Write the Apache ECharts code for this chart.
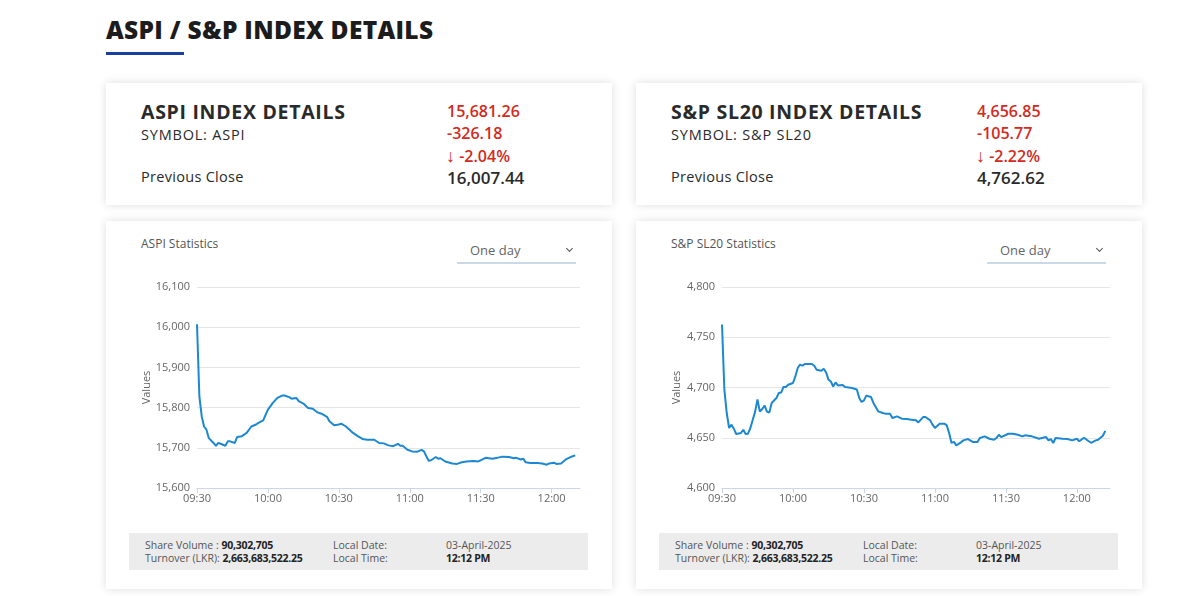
<!DOCTYPE html>
<html><head><meta charset="utf-8">
<script src="https://cdn.jsdelivr.net/npm/echarts@6/dist/echarts.min.js"></script>
<style>
html,body{margin:0;padding:0;background:#fff;width:1200px;height:596px;overflow:hidden;font-family:"Open Sans",sans-serif;}
.abs{position:absolute;white-space:nowrap;}
.card{position:absolute;background:#fff;box-shadow:0 0 9px rgba(0,0,0,0.13);}
.t{position:absolute;white-space:nowrap;height:20px;line-height:20px;}
b{letter-spacing:-0.25px;}
</style></head>
<body>
<script>
// ---------- data ----------
const tickLabels = ['09:30','10:00','10:30','11:00','11:30','12:00'];
const aspiTimes = ['09:30','09:31','09:32','09:33','09:34','09:35','09:37','09:38','09:39','09:40','09:42','09:43','09:44','09:46','09:47','09:49','09:51','09:53','09:55','09:56','09:58','09:59','10:00','10:02','10:04','10:06','10:07','10:09','10:10','10:12','10:13','10:15','10:17','10:19','10:21','10:23','10:25','10:26','10:28','10:30','10:31','10:33','10:36','10:38','10:40','10:42','10:45','10:47','10:49','10:51','10:53','10:55','10:56','10:57','10:59','11:01','11:03','11:05','11:06','11:07','11:08','11:09','11:11','11:12','11:13','11:15','11:18','11:20','11:22','11:24','11:27','11:29','11:31','11:32','11:35','11:37','11:39','11:42','11:44','11:45','11:47','11:48','11:49','11:51','11:54','11:56','11:58','11:59','12:01','12:02','12:04','12:06','12:08','12:10'];
const aspiValues = [16007.44,15828,15778,15753,15745,15724,15712,15705,15712,15710,15705,15716,15716,15712,15727,15729,15737,15753,15758,15762,15768,15782,15795,15811,15824,15830,15830,15826,15822,15824,15816,15810,15799,15797,15788,15784,15777,15766,15756,15758,15760,15753,15737,15729,15722,15720,15720,15712,15711,15706,15704,15710,15705,15705,15695,15691,15690,15695,15691,15679,15668,15669,15677,15673,15674,15666,15661,15660,15664,15666,15667,15666,15672,15675,15673,15675,15678,15677,15674,15675,15671,15673,15664,15662,15662,15661,15658,15661,15663,15660,15661,15671,15677,15681.26];
const slTimes = ['09:30','09:31','09:32','09:33','09:34','09:35','09:36','09:38','09:39','09:40','09:41','09:42','09:44','09:45','09:46','09:47','09:48','09:49','09:50','09:51','09:53','09:54','09:55','09:56','09:57','09:58','10:00','10:01','10:02','10:03','10:04','10:05','10:08','10:09','10:10','10:12','10:13','10:14','10:15','10:16','10:17','10:18','10:19','10:21','10:22','10:25','10:27','10:28','10:29','10:30','10:31','10:33','10:34','10:36','10:38','10:39','10:41','10:42','10:44','10:46','10:48','10:50','10:52','10:53','10:55','10:56','10:58','10:59','11:00','11:02','11:04','11:05','11:06','11:07','11:08','11:09','11:11','11:12','11:14','11:16','11:18','11:19','11:21','11:23','11:25','11:26','11:27','11:28','11:31','11:33','11:35','11:37','11:38','11:41','11:44','11:47','11:48','11:49','11:50','11:51','11:54','11:56','11:58','12:00','12:01','12:03','12:05','12:06','12:08','12:09','12:11','12:12'];
const slValues = [4762.62,4697.8,4674.6,4659.7,4663,4659,4653.7,4654.7,4658,4653.7,4654,4659.7,4676,4688,4676,4678.6,4682,4676,4675,4684.6,4689.5,4694.5,4695,4700.5,4700.5,4702.8,4704.5,4711,4719.4,4722.7,4721.7,4723.4,4723.4,4721.7,4717.7,4716.7,4718.7,4715,4707.8,4706,4701,4705,4702,4702.5,4700.5,4699.5,4698,4689.5,4685.6,4687.2,4691.9,4690.5,4684.6,4676.3,4674.6,4674,4674,4669.6,4671.3,4669,4668.6,4668,4667.3,4665.3,4670.6,4670.6,4667.3,4663,4659.7,4664,4664,4662.3,4654.7,4644.8,4646,4642.4,4645.4,4647.4,4648.7,4645.8,4645.8,4649.7,4651.4,4649,4648,4649.7,4653,4650.7,4654,4654,4653,4651.4,4652.4,4651.4,4649,4650.7,4647.4,4648.7,4644.8,4649.7,4649,4648.7,4647.4,4649,4646.5,4650,4646.5,4645,4647.4,4648,4652,4656.85];
const aspiYTicks = [15600,15700,15800,15900,16000,16100];
const slYTicks = [4600,4650,4700,4750,4800];

// ---------- helpers ----------
function toMin(s){const p=s.split(':');return (+p[0])*60+(+p[1]) - (9*60+30);}
function fromMin(m){const t=9*60+30+m;const h=Math.floor(t/60),mm=t%60;return String(h).padStart(2,'0')+':'+String(mm).padStart(2,'0');}
function el(html){document.body.insertAdjacentHTML('beforeend',html);}

// ---------- page layout ----------
el('<div class="abs" style="left:106px;top:14px;font-size:24.5px;font-weight:800;color:#1c1c1c;line-height:32px;letter-spacing:0.3px;">ASPI / S&amp;P INDEX DETAILS</div>');
el('<div class="abs" style="left:106px;top:52px;width:78px;height:3px;background:#1b3f9c;"></div>');

function headerCard(x, title, symbol, val, chg, pct, prev){
  el(`<div class="card" style="left:${x}px;top:83px;width:506px;height:122px;"></div>`);
  el(`<div class="t" style="left:${x+35}px;top:102px;font-size:19.5px;font-weight:700;color:#2a2a2a;letter-spacing:0.7px;">${title}</div>`);
  el(`<div class="t" style="left:${x+35}px;top:125px;font-size:14.5px;font-weight:500;color:#2a2a2a;letter-spacing:0.8px;">${symbol}</div>`);
  el(`<div class="t" style="left:${x+35}px;top:167px;font-size:14.5px;font-weight:500;color:#2a2a2a;letter-spacing:0.3px;">Previous Close</div>`);
  el(`<div class="t" style="left:${x+341}px;top:101px;font-size:16px;font-weight:600;color:#d42a20;">${val}</div>`);
  el(`<div class="t" style="left:${x+341}px;top:123px;font-size:16px;font-weight:600;color:#d42a20;">${chg}</div>`);
  el(`<div class="t" style="left:${x+340}px;top:145px;font-size:16px;font-weight:600;color:#d42a20;"><span style="font-size:18px;font-weight:700;">&#8595;</span> ${pct}</div>`);
  el(`<div class="t" style="left:${x+341}px;top:168px;font-size:17px;font-weight:600;color:#2a2a2a;">${prev}</div>`);
}
headerCard(106,'ASPI INDEX DETAILS','SYMBOL: ASPI','15,681.26','-326.18','-2.04%','16,007.44');
headerCard(636,'S&amp;P SL20 INDEX DETAILS','SYMBOL: S&amp;P SL20','4,656.85','-105.77','-2.22%','4,762.62');

function chartCard(x, name, id){
  el(`<div class="card" style="left:${x}px;top:221px;width:506px;height:368px;"></div>`);
  el(`<div class="t" style="left:${x+35}px;top:234px;font-size:12px;color:#555;">${name}</div>`);
  el(`<div class="t" style="left:${x+364}px;top:240px;font-size:13px;color:#666;">One day</div>`);
  el(`<div class="abs" style="left:${x+461}px;top:246px;width:4px;height:4px;border-right:1.5px solid #555;border-bottom:1.5px solid #555;transform:rotate(45deg);"></div>`);
  el(`<div class="abs" style="left:${x+351}px;top:262px;width:119px;height:1.5px;background:#c9d9e8;"></div>`);
  el(`<div id="${id}" class="abs" style="left:${x}px;top:221px;width:506px;height:305px;"></div>`);
  el(`<div class="abs" style="left:${x+23}px;top:533px;width:459px;height:37px;background:#ececec;"></div>`);
  const f='font-size:10.5px;color:#555;height:14px;line-height:14px;';
  el(`<div class="abs" style="left:${x+39}px;top:538px;${f}">Share Volume : <b style="color:#222">90,302,705</b></div>`);
  el(`<div class="abs" style="left:${x+39}px;top:551px;${f}">Turnover (LKR): <b style="color:#222">2,663,683,522.25</b></div>`);
  el(`<div class="abs" style="left:${x+227}px;top:538px;${f}">Local Date:</div>`);
  el(`<div class="abs" style="left:${x+227}px;top:551px;${f}">Local Time:</div>`);
  el(`<div class="abs" style="left:${x+340}px;top:538px;${f}">03-April-2025</div>`);
  el(`<div class="abs" style="left:${x+340}px;top:551px;${f}"><b style="color:#222">12:12 PM</b></div>`);
}
chartCard(106,'ASPI Statistics','c1');
chartCard(636,'S&amp;P SL20 Statistics','c2');

function makeChart(id, times, values, yTicks, gridLeft, gridWidth, xMax, nameGap){
  const chart = echarts.init(document.getElementById(id), null, {renderer:'canvas'});
  const data = times.map((t,i)=>[toMin(t), values[i]]);
  const tickVals = tickLabels.map(toMin);
  chart.setOption({
    animation:false,
    grid:{left:gridLeft, top:66, width:gridWidth, height:201},
    xAxis:{type:'value', min:0, max:xMax,
      axisLine:{show:true, lineStyle:{color:'#ccd6eb', width:1}},
      axisTick:{show:true, customValues:tickVals, length:5, lineStyle:{color:'#ccd6eb'}},
      axisLabel:{customValues:tickVals, formatter:v=>fromMin(v), color:'#666', fontSize:11, margin:5, fontFamily:'Open Sans'},
      splitLine:{show:false}},
    yAxis:{type:'value', min:yTicks[0], max:yTicks[yTicks.length-1], interval:yTicks[1]-yTicks[0],
      name:'Values', nameLocation:'middle', nameGap:nameGap, nameRotate:90, nameMoveOverlap:false,
      nameTextStyle:{color:'#666', fontSize:11, fontFamily:'Open Sans'},
      axisLine:{show:false}, axisTick:{show:false},
      axisLabel:{formatter:v=>v.toLocaleString('en-US'), color:'#666', fontSize:11, margin:7, fontFamily:'Open Sans'},
      splitLine:{lineStyle:{color:'#e6e6e6', width:1}}},
    series:[{type:'line', data:data, showSymbol:false, symbol:'none',
      lineStyle:{color:'#1d88d2', width:2}, z:3}]
  });
}
makeChart('c1', aspiTimes, aspiValues, aspiYTicks, 91, 383, 162, 45);
makeChart('c2', slTimes, slValues, slYTicks, 86, 388, 164, 40);
</script>
</body></html>
